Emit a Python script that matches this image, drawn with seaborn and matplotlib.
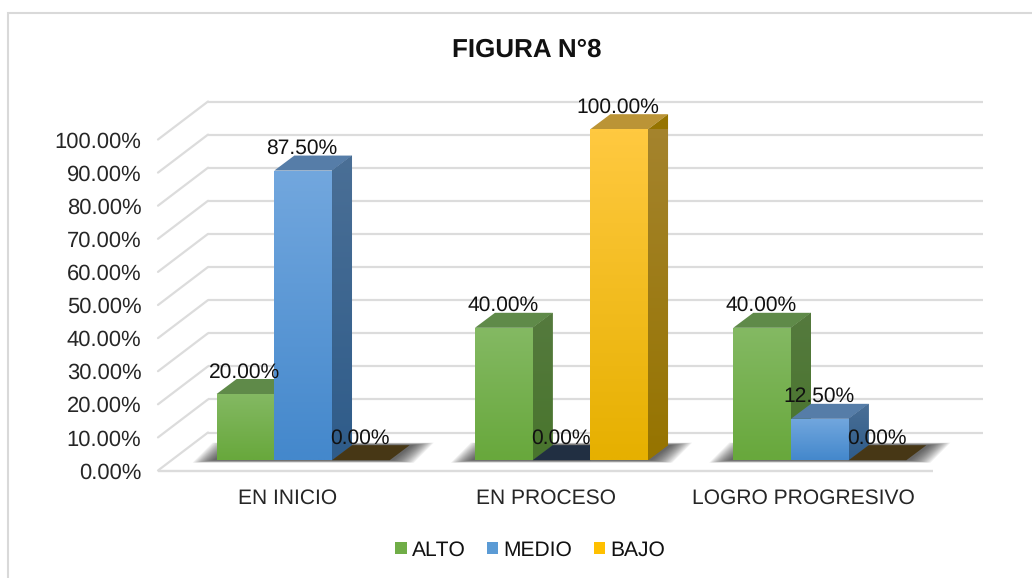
import numpy as np
import pandas as pd
import matplotlib
matplotlib.use("Agg")
import matplotlib.pyplot as plt
from matplotlib.patches import Polygon, Patch, Rectangle
import seaborn as sns

categories = ["EN INICIO", "EN PROCESO", "LOGRO PROGRESIVO"]
series_names = ["ALTO", "MEDIO", "BAJO"]
alto = [20.0, 40.0, 40.0]
medio = [87.5, 0.0, 12.5]
bajo = [0.0, 100.0, 0.0]
yticks = list(range(0, 101, 10))

W, H = 1032, 578
front_colors = {"ALTO": ("#84b963", "#68a83c"), "MEDIO": ("#72a7de", "#4488cc"), "BAJO": ("#ffc940", "#e6b000")}
side_colors = {"ALTO": ("#557a3e", "#49752d"), "MEDIO": ("#4a6f96", "#2f5c8a"), "BAJO": ("#a5842f", "#967400")}
top_colors = {"ALTO": "#5f8a49", "MEDIO": "#567da8", "BAJO": "#bb9436"}
zero_colors = {"ALTO": "#3c5a20", "MEDIO": "#212f42", "BAJO": "#473715"}
legend_colors = {"ALTO": "#70ad47", "MEDIO": "#5b9bd5", "BAJO": "#ffc000"}
GRID = "#dcdcdc"

df = pd.DataFrame({"categoria": categories * 3,
                   "serie": [s for s in series_names for _ in categories],
                   "valor": alto + medio + bajo})

sns.set_theme(style="white")
plt.rcParams["font.family"] = ["Liberation Sans", "DejaVu Sans"]
plt.rcParams["text.color"] = "#111111"
plt.rcParams["text.hinting"] = "no_hinting"
plt.rcParams["text.hinting_factor"] = 1
FS = 15.3

fig = plt.figure(figsize=(W / 100, H / 100), dpi=100, facecolor="white")

# chart border
fig.add_artist(Rectangle((8 / W, -0.02), 1.2, 1.02 - 13 / H, transform=fig.transFigure,
                         fill=False, edgecolor="#d9d9d9", linewidth=1.5))


def rect(x0, y_bottom, w, h):
    return [x0 / W, (H - y_bottom) / H, w / W, h / H]


PW, PH = 775, 331
ax_f = fig.add_axes(rect(158, 470.5, PW, PH), facecolor="none")
ax = fig.add_axes(rect(174, 460.2, PW, PH), facecolor="none")

# scale conversion, pixels to data
sx = 3 / PW
sy = 100 / PH

# walls and floor
ax_f.set_xlim(-0.5, 2.5)
ax_f.set_ylim(0, 100)
x_l, x_r = -0.5, 2.5
bx, by = 50 * sx, 38 * sy
for v in yticks:
    ax_f.plot([x_l + bx, x_r + bx], [v + by, v + by], color=GRID, lw=1.6, clip_on=False, solid_capstyle="butt")
    ax_f.plot([x_l, x_l + bx], [v, v + by], color=GRID, lw=1.6, clip_on=False)
ax_f.plot([x_l, x_r], [0, 0], color=GRID, lw=1.7, clip_on=False, solid_capstyle="butt")
ax_f.set_xticks(range(len(categories)), categories, fontsize=FS)
ax_f.set_yticks(yticks, [f"{v:.2f}%" for v in yticks], fontsize=15.7)
ax_f.tick_params(axis="both", length=0)
ax_f.tick_params(axis="y", pad=12)
ax_f.tick_params(axis="x", pad=13)
sns.despine(ax=ax_f, left=True, bottom=True)

# bars
sns.barplot(data=df, x="categoria", y="valor", hue="serie", order=categories, hue_order=series_names,
            width=0.67, gap=0, dodge=True, legend=False, ax=ax, saturation=1,
            palette=legend_colors, edgecolor="none", linewidth=0)
ax.set_xlim(-0.5, 2.5)
ax.set_ylim(0, 100)
ax.axis("off")

dx, dy = 20 * sx, 15 * sy


def gradient(patch, c1, c2, z):
    ext = patch.get_path().transformed(patch.get_patch_transform()).get_extents()
    rgb = np.array([matplotlib.colors.to_rgb(c1), matplotlib.colors.to_rgb(c2)])
    t = np.linspace(0, 1, 64)[:, None]
    img = (rgb[0] * (1 - t) + rgb[1] * t)[:, None, :]
    im = ax.imshow(img, extent=(ext.x0, ext.x1, ext.y0, ext.y1), origin="upper", aspect="auto",
                   zorder=z, interpolation="bilinear")
    im.set_clip_path(patch)


# soft floor shadows behind each group
N = 16
for c in range(len(categories)):
    left = ax.containers[0][c].get_x()
    right = ax.containers[2][c].get_x() + ax.containers[2][c].get_width()
    for k in range(N):
        pad = (24 - 22 * k / N) * sx
        ext = (2.5 - 2.5 * k / N) * sy
        ax.add_patch(Polygon([(left - pad, -ext), (left - pad + dx, dy + ext),
                              (right + pad + dx, dy + ext), (right + pad, -ext)],
                             closed=True, facecolor="#2a2a2a", alpha=0.07, edgecolor="none",
                             zorder=1, clip_on=False))

for s, (name, cont) in enumerate(zip(series_names, ax.containers)):
    for c, bar in enumerate(cont):
        z = 3 + s * 3
        x0, w, h = bar.get_x(), bar.get_width(), bar.get_height()
        top_col = top_colors[name] if h > 0 else zero_colors[name]
        ax.add_patch(Polygon([(x0, h), (x0 + dx, h + dy), (x0 + w + dx, h + dy), (x0 + w, h)],
                             closed=True, facecolor=top_col, edgecolor="none", zorder=z, clip_on=False))
        if h > 0:
            side = Polygon([(x0 + w, 0), (x0 + w + dx, dy), (x0 + w + dx, h + dy), (x0 + w, h)],
                           closed=True, facecolor=side_colors[name][1], edgecolor="none", zorder=z, clip_on=False)
            ax.add_patch(side)
            gradient(side, *side_colors[name], z + 0.1)
            bar.set_zorder(z + 1)
            bar.set_clip_on(False)
            gradient(bar, *front_colors[name], z + 1.1)
        else:
            bar.set_visible(False)
        ax.annotate(f"{h:.2f}%", (x0 + w / 2, h), xytext=(-1, 22), textcoords="offset pixels",
                    ha="center", va="center", fontsize=15.4, zorder=50, annotation_clip=False)

ax.set_xlim(-0.5, 2.5)
ax.set_ylim(0, 100)

fig.text(526.5 / W, 1 - 50.5 / H, "FIGURA N°8", fontsize=18.5, fontweight="bold", ha="center", va="center")

handles = [Patch(facecolor=legend_colors[n], edgecolor="none", label=n) for n in series_names]
fig.legend(handles=handles, ncol=3, loc="center", bbox_to_anchor=(530 / W, 1 - 550 / H), frameon=False,
           fontsize=FS, handlelength=0.55, handleheight=0.55, handletextpad=0.24, columnspacing=1.0,
           borderaxespad=0, borderpad=0)

fig.savefig("out.png", dpi=100, facecolor="white")
